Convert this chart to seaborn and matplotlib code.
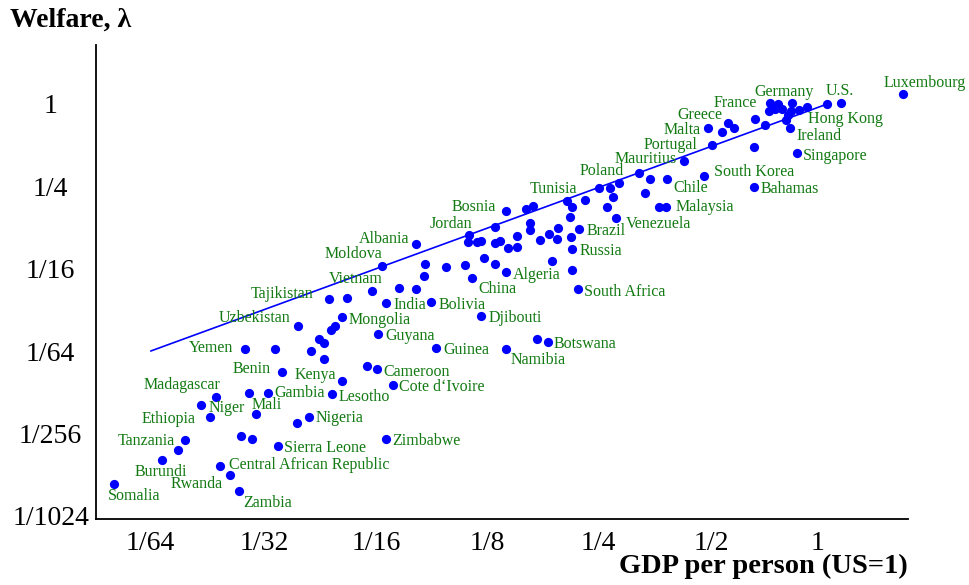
import numpy as np
import pandas as pd
import matplotlib
matplotlib.use("Agg")
import matplotlib.pyplot as plt
import seaborn as sns

# ---------------- data (log2 of values) ----------------
countries = [
    "Luxembourg", "U.S.", "", "France", "Germany", "", "", "", "", "", "", "",
    "Hong Kong", "", "Ireland", "", "", "Greece", "", "", "Malta", "Portugal", "",
    "Singapore", "Mauritius", "South Korea", "Bahamas", "", "", "Chile", "", "",
    "Malaysia", "", "", "Venezuela", "Poland", "", "", "Tunisia", "", "", "",
    "Brazil", "", "Russia", "", "", "", "", "", "", "", "", "", "", "", "",
    "Bosnia", "", "", "Jordan", "", "", "", "Albania", "Moldova", "", "", "", "",
    "", "", "China", "Algeria", "", "", "South Africa", "Vietnam", "", "",
    "India", "Bolivia", "Djibouti", "Guyana", "Guinea", "Namibia", "", "Botswana",
    "Tajikistan", "", "Uzbekistan", "Mongolia", "", "", "Yemen", "", "", "", "",
    "", "Benin", "Kenya", "", "Cameroon", "Cote d\u2018Ivoire", "Lesotho", "Gambia",
    "", "Madagascar", "Niger", "Ethiopia", "Mali", "Nigeria", "", "Tanzania", "",
    "", "", "Sierra Leone", "Zimbabwe", "Burundi", "Central African Republic",
    "Rwanda", "Somalia", "Zambia",
]
log2_gdp = [
    0.67, 0.00, 0.12, -0.51, -0.44, -0.31, -0.18, -0.52, -0.46, -0.40, -0.32, -0.25,
    -0.35, -0.37, -0.33, -0.64, -0.55, -0.88, -0.83, -0.93, -1.06, -1.02, -0.65,
    -0.27, -1.27, -1.09, -0.65, -1.67, -1.57, -1.42, -1.62, -1.49,
    -1.43, -1.90, -1.95, -1.87, -2.02, -1.93, -1.85, -2.31, -2.26, -2.15, -2.28,
    -2.20, -2.27, -2.26, -2.39, -2.40, -2.47, -2.55, -2.64, -2.64, -2.75, -2.75, -2.83, -2.90, -2.95, -2.95,
    -2.85, -2.67, -2.61, -3.18, -3.19, -3.11, -3.07, -3.65, -3.95, -3.57, -3.58, -3.38, -3.21,
    -3.04, -2.95, -3.15, -2.85, -2.44, -2.26, -2.21, -4.04, -3.80, -3.65,
    -3.91, -3.51, -3.07, -3.98, -3.47, -2.85, -2.57, -2.48,
    -4.42, -4.26, -4.69, -4.30, -4.37, -4.40, -5.16, -4.90, -4.51, -4.46, -4.58,
    -4.46, -4.84, -4.30, -4.08, -3.99, -3.85, -4.39, -4.96,
    -5.13, -5.42, -5.55, -5.47, -5.07, -4.60, -4.70, -5.70, -5.76,
    -5.20, -5.10, -4.87, -3.91, -5.90, -5.39,
    -5.30, -6.33, -5.22,
]
log2_welfare = [
    0.24, 0.00, 0.02, 0.02, 0.00, 0.02, -0.07, -0.16, -0.13, -0.13, -0.16, -0.15,
    -0.27, -0.39, -0.59, -0.37, -0.51, -0.47, -0.59, -0.67, -0.59, -1.00, -1.05,
    -1.20, -1.38, -1.75, -2.01, -1.67, -1.81, -1.83, -2.17, -2.51,
    -2.51, -2.27, -2.51, -2.78, -2.05, -2.05, -1.93, -2.35, -2.49, -2.33, -2.74,
    -3.04, -3.22, -3.53, -3.00, -3.29, -3.16, -3.30, -2.90, -3.06, -3.21, -3.47, -3.49, -3.32, -3.37, -2.98,
    -2.60, -2.55, -2.47, -3.17, -3.35, -3.35, -3.32, -3.41, -3.93, -3.89, -4.18, -3.95, -3.91,
    -3.75, -3.89, -4.23, -4.09, -3.81, -4.03, -4.49, -4.54, -4.46, -4.49,
    -4.83, -4.81, -5.15, -5.59, -5.92, -5.96, -5.72, -5.79,
    -4.74, -4.70, -5.39, -5.18, -5.39, -5.49, -5.94, -5.96, -5.72, -5.80, -6.00,
    -6.20, -6.50, -6.72, -6.36, -6.44, -6.83, -7.05, -7.02,
    -7.03, -7.11, -7.30, -7.60, -7.53, -7.60, -7.76, -8.16, -8.40,
    -8.06, -8.14, -8.31, -8.14, -8.65, -8.79,
    -9.01, -9.23, -9.40,
]
line_gdp = [1 / 64, 1]
line_welfare = [1 / 64, 1]

x_ticks = [1 / 64, 1 / 32, 1 / 16, 1 / 8, 1 / 4, 1 / 2, 1]
x_tick_labels = ["1/64", "1/32", "1/16", "1/8", "1/4", "1/2", "1"]
y_ticks = [1 / 1024, 1 / 256, 1 / 64, 1 / 16, 1 / 4, 1]
y_tick_labels = ["1/1024", "1/256", "1/64", "1/16", "1/4", "1"]

# label placement (pixel offsets from the dot, horizontal alignment)
label_layout = {
    "Luxembourg": (-19, 11, "left"), "U.S.": (-2, 13, "left"),
    "Germany": (-23, 12, "left"), "France": (-13, 0, "right"),
    "Hong Kong": (20, -4, "left"), "Greece": (-6, 8, "right"),
    "Malta": (-7, -2, "right"), "Ireland": (6, -8, "left"),
    "Portugal": (-15, 0, "right"), "Singapore": (6, -3, "left"),
    "Mauritius": (-7, 2, "right"), "South Korea": (10, 4, "left"),
    "Chile": (6, -9, "left"), "Bahamas": (7, -2, "left"),
    "Malaysia": (10, 0, "left"), "Venezuela": (9, -6, "left"),
    "Poland": (-20, 17, "left"), "Tunisia": (-37, 12, "left"),
    "Bosnia": (-10, 4, "right"), "Jordan": (-39, 11, "left"),
    "Albania": (-6, 5, "right"), "Moldova": (0, 12, "right"),
    "Brazil": (7, -2, "left"), "Russia": (7, -2, "left"),
    "Algeria": (7, -3, "left"), "China": (6, -11, "left"),
    "South Africa": (6, -3, "left"), "India": (7, -2, "left"),
    "Bolivia": (7, -3, "left"), "Djibouti": (7, -2, "left"),
    "Guyana": (7, -2, "left"), "Guinea": (7, -2, "left"),
    "Namibia": (5, -11, "left"), "Botswana": (6, -2, "left"),
    "Vietnam": (-43, 12, "left"), "Tajikistan": (-15, 5, "right"),
    "Uzbekistan": (-8, 8, "right"), "Mongolia": (6, -3, "left"),
    "Yemen": (-12, 1, "right"), "Benin": (-11, 3, "right"),
    "Kenya": (-6, 6, "right"), "Cameroon": (6, -3, "left"),
    "Cote d\u2018Ivoire": (6, -2, "left"), "Gambia": (6, 0, "left"),
    "Lesotho": (6, -3, "left"), "Madagascar": (4, 12, "right"),
    "Niger": (7, -3, "left"), "Mali": (-4, 9, "left"),
    "Ethiopia": (-15, -2, "right"), "Nigeria": (7, -1, "left"),
    "Tanzania": (-10, -1, "right"), "Sierra Leone": (6, -2, "left"),
    "Zimbabwe": (6, -2, "left"), "Burundi": (-27, -12, "left"),
    "Central African Republic": (9, 1, "left"), "Rwanda": (-7, -9, "right"),
    "Somalia": (-6, -12, "left"), "Zambia": (5, -12, "left"),
}
# x tick label nudges (pixels)
x_label_nudge = [0, 1, 0, -2, -3, -3, -10]

# ---------------- figure ----------------
sns.set_style("white")
plt.rcParams["font.family"] = ["Liberation Serif", "DejaVu Serif"]
plt.rcParams["text.color"] = "black"
plt.rcParams["xtick.color"] = "black"
plt.rcParams["ytick.color"] = "black"
plt.rcParams["axes.labelcolor"] = "black"

W, H = 969, 585
fig = plt.figure(figsize=(W / 100, H / 100), dpi=100)
left, right, top, bottom = 95.7, 908, 45, 519
ax = fig.add_axes([left / W, 1 - bottom / H, (right - left) / W, (bottom - top) / H])

df = pd.DataFrame({
    "country": countries,
    "gdp": np.power(2.0, log2_gdp),
    "welfare": np.power(2.0, log2_welfare),
})

blue = "#0000ff"
green = "#137a13"

sns.lineplot(x=line_gdp, y=line_welfare, color=blue, linewidth=1.2, ax=ax,
             sort=False, estimator=None)
sns.scatterplot(data=df, x="gdp", y="welfare", color=blue, s=44, linewidth=0,
                ax=ax, zorder=3)

ax.set_xscale("log", base=2)
ax.set_yscale("log", base=2)
ax.set_xlim(2 ** -6.488, 2 ** 0.716)
ax.set_ylim(2 ** -10.08, 2 ** 1.433)
ax.minorticks_off()

ax.set_xticks(x_ticks)
ax.set_xticklabels([])
ax.set_yticks(y_ticks)
ax.set_yticklabels(y_tick_labels, fontsize=20, color="black")
ax.tick_params(axis="both", direction="in", length=5, width=1.3, color="black")
ax.tick_params(axis="y", pad=32.5)
for lab in ax.get_yticklabels():
    lab.set_horizontalalignment("center")

for val, txt, nud in zip(x_ticks, x_tick_labels, x_label_nudge):
    ax.annotate(txt, xy=(val, 0), xycoords=("data", "axes fraction"),
                xytext=(nud, -12), textcoords="offset pixels",
                ha="center", va="top", fontsize=20, color="black")

ax.set_xlabel("")
ax.set_ylabel("")
for s in ["top", "right"]:
    ax.spines[s].set_visible(False)
for s in ["left", "bottom"]:
    ax.spines[s].set_linewidth(1.3)
    ax.spines[s].set_color("black")

for name, (dx, dy, ha) in label_layout.items():
    i = countries.index(name)
    ax.annotate(name, xy=(df.gdp[i], df.welfare[i]), xytext=(dx, dy),
                textcoords="offset pixels", ha=ha, va="center",
                fontsize=11.5, color=green)

fig.text(10 / W, 1 - 27 / H, "Welfare, \u03bb", fontsize=20, fontweight="bold",
         ha="left", va="baseline", color="black")
fig.text(908 / W, 1 - 573 / H, "GDP per person (US=1)", fontsize=20.5,
         fontweight="bold", ha="right", va="baseline", color="black")

fig.savefig("out.png", dpi=100, facecolor="white")
